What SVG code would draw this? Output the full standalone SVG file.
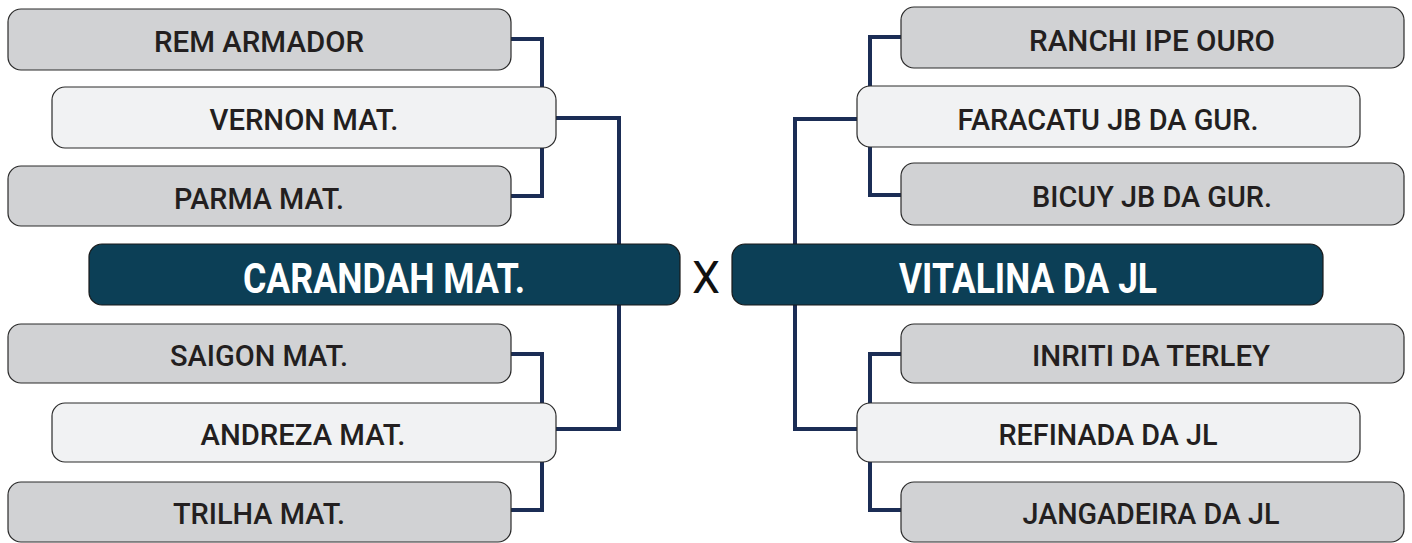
<svg xmlns="http://www.w3.org/2000/svg" width="1412" height="543" viewBox="0 0 1412 543">
<style>
.g{fill:#d1d2d4;stroke:#2b2b2b;stroke-width:1.2}
.w{fill:#f1f2f3;stroke:#2b2b2b;stroke-width:1.2}
.m{fill:#0c3f56;stroke:#1a1a1a;stroke-width:1.2}
.t{font-family:Roboto,"Liberation Sans",sans-serif;font-weight:500;font-size:29px;fill:#231f20;text-anchor:middle}
.mt{font-family:Roboto,"Liberation Sans",sans-serif;font-weight:700;font-size:42px;fill:#ffffff;text-anchor:middle}
.x{font-family:Roboto,"Liberation Sans",sans-serif;font-weight:400;font-size:45px;fill:#111;text-anchor:middle}
.c{fill:none;stroke:#1b2d55;stroke-width:4;stroke-linejoin:miter}
</style>
<rect width="1412" height="543" fill="#ffffff"/>
<g id="connectors">
<polyline class="c" points="511,39 542,39 542,196 511,196"/>
<polyline class="c" points="556,118 619,118 619,245"/>
<polyline class="c" points="511,354 542,354 542,510 511,510"/>
<polyline class="c" points="556,429 619,429 619,305"/>
<polyline class="c" points="901,37 870,37 870,195 901,195"/>
<polyline class="c" points="857,119 795,119 795,245"/>
<polyline class="c" points="901,354 870,354 870,510 901,510"/>
<polyline class="c" points="857,429 795,429 795,305"/>
</g>
<g id="rem-armador"><rect class="g" x="8" y="9" width="503" height="61" rx="13"/><text class="t" x="259" y="52" textLength="210" lengthAdjust="spacingAndGlyphs">REM ARMADOR</text></g>
<g id="parma"><rect class="g" x="8" y="166" width="503" height="60" rx="13"/><text class="t" x="259" y="209" textLength="170" lengthAdjust="spacingAndGlyphs">PARMA MAT.</text></g>
<g id="vernon"><rect class="w" x="52" y="87" width="504" height="61" rx="13"/><text class="t" x="304" y="130" textLength="189" lengthAdjust="spacingAndGlyphs">VERNON MAT.</text></g>
<g id="saigon"><rect class="g" x="8" y="324" width="503" height="59" rx="13"/><text class="t" x="259" y="366" textLength="178" lengthAdjust="spacingAndGlyphs">SAIGON MAT.</text></g>
<g id="trilha"><rect class="g" x="8" y="482" width="503" height="60" rx="13"/><text class="t" x="259" y="524" textLength="172" lengthAdjust="spacingAndGlyphs">TRILHA MAT.</text></g>
<g id="andreza"><rect class="w" x="52" y="403" width="504" height="59" rx="13"/><text class="t" x="303" y="445" textLength="205" lengthAdjust="spacingAndGlyphs">ANDREZA MAT.</text></g>
<g id="carandah"><rect class="m" x="89" y="244" width="591" height="61" rx="13"/><text class="mt" x="384" y="293" textLength="282" lengthAdjust="spacingAndGlyphs">CARANDAH MAT.</text></g>
<g id="versus"><text class="x" x="706" y="293" textLength="28" lengthAdjust="spacingAndGlyphs">X</text></g>
<g id="vitalina"><rect class="m" x="732" y="244" width="591" height="61" rx="13"/><text class="mt" x="1028" y="293" textLength="258" lengthAdjust="spacingAndGlyphs">VITALINA DA JL</text></g>
<g id="ranchi"><rect class="g" x="901" y="7" width="503" height="61" rx="13"/><text class="t" x="1152" y="51" textLength="246" lengthAdjust="spacingAndGlyphs">RANCHI IPE OURO</text></g>
<g id="bicuy"><rect class="g" x="901" y="163" width="503" height="62" rx="13"/><text class="t" x="1152" y="207" textLength="240" lengthAdjust="spacingAndGlyphs">BICUY JB DA GUR.</text></g>
<g id="faracatu"><rect class="w" x="857" y="86" width="503" height="61" rx="13"/><text class="t" x="1108" y="130" textLength="301" lengthAdjust="spacingAndGlyphs">FARACATU JB DA GUR.</text></g>
<g id="inriti"><rect class="g" x="901" y="324" width="503" height="59" rx="13"/><text class="t" x="1151" y="366" textLength="238" lengthAdjust="spacingAndGlyphs">INRITI DA TERLEY</text></g>
<g id="jangadeira"><rect class="g" x="901" y="482" width="503" height="60" rx="13"/><text class="t" x="1151" y="524" textLength="257" lengthAdjust="spacingAndGlyphs">JANGADEIRA DA JL</text></g>
<g id="refinada"><rect class="w" x="857" y="403" width="503" height="59" rx="13"/><text class="t" x="1108" y="445" textLength="219" lengthAdjust="spacingAndGlyphs">REFINADA DA JL</text></g>
</svg>
